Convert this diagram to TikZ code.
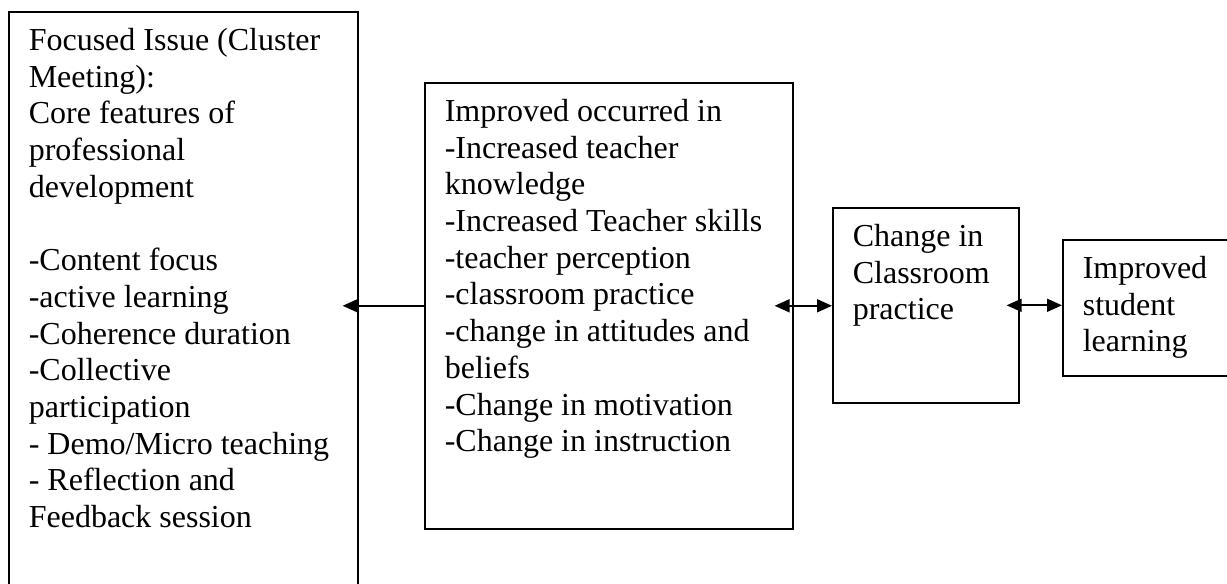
\documentclass[tikz,border=0pt]{standalone}
\usepackage{fontspec}
\setmainfont{Liberation Serif}
\usepackage{tikz}
\usetikzlibrary{arrows.meta}

\newcommand{\boxtext}[3]{\parbox[c][#2][t]{#1}{\raggedright\strut #3}}

\begin{document}
\begin{tikzpicture}[x=1pt, y=-1pt,
  blk/.style={draw, line width=1.6pt, inner xsep=20pt, inner ysep=13pt, anchor=north west,
    font=\fontsize{32}{36.7}\selectfont},
  tip/.style={line width=1.8pt, -{Triangle[length=15pt,width=13pt]}},
  link/.style={line width=1.8pt, {Triangle[length=15pt,width=13pt]}-{Triangle[length=15pt,width=13pt]}}]
\useasboundingbox (0,0) rectangle (1227,584);

\node[blk] (focus) at (8,11) {\boxtext{309pt}{614pt}{Focused Issue (Cluster\\
Meeting):\\ Core features of\\ professional\\ development\\[\baselineskip]
-Content focus\\ -active learning\\ -Coherence duration\\ -Collective\\ participation\\
- Demo/Micro teaching\\ - Reflection and\\ Feedback session}};
\node[blk] (imp) at (424,82) {\boxtext{328pt}{420pt}{Improved occurred in\\
-Increased teacher\\ knowledge\\ -Increased Teacher skills\\ -teacher perception\\
-classroom practice\\ -change in attitudes and\\ beliefs\\ -Change in motivation\\
-Change in instruction}};
\node[blk] (change) at (832,207) {\boxtext{146pt}{169pt}{Change in\\ Classroom\\ practice}};
\node[blk] (stud) at (1062,239) {\boxtext{135pt}{110pt}{Improved\\ student\\ learning}};

\draw[tip, shorten >=-16pt] (imp.west) -- (imp.west -| focus.east);
\draw[link, shorten <=-19pt] (imp.east) -- (imp.east -| change.west);
\draw[link, shorten <=-13pt] (change.east) -- (change.east -| stud.west);
\end{tikzpicture}
\end{document}
